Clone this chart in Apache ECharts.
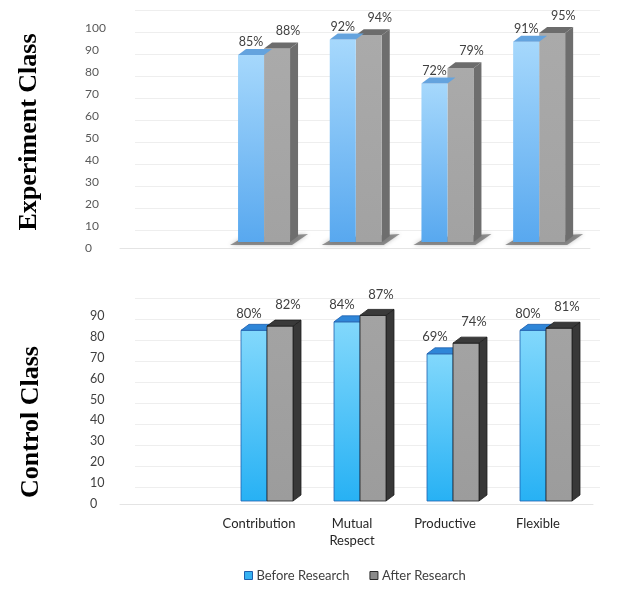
<!DOCTYPE html>
<html><head><meta charset="utf-8">
<script src="https://cdn.jsdelivr.net/npm/echarts@6/dist/echarts.min.js"></script>
<style>html,body{margin:0;padding:0;background:#fff}#c{width:630px;height:598px}</style>
</head><body><div id="c"></div>
<script>
const categories = ['', 'Contribution', 'Mutual\nRespect', 'Productive', 'Flexible'];
const experimentBefore = [null, 85, 92, 72, 91];
const experimentAfter = [null, 88, 94, 79, 95];
const controlBefore = [null, 80, 84, 69, 80];
const controlAfter = [null, 82, 87, 74, 81];
const seriesNames = ['Before Research', 'After Research'];
const panelTitles = ['Experiment Class', 'Control Class'];
const experimentMax = 100;
const controlMax = 90;

const FONT = 'Lato, "Open Sans", sans-serif';

function toData(arr) {
  const out = [];
  arr.forEach((v, i) => { if (v != null) out.push([i, v]); });
  return out;
}

function bar3D(side, st) {
  return function (params, api) {
    const ci = api.value(0), v = api.value(1);
    const top = api.coord([ci, v]);
    const base = api.coord([ci, 0]);
    const bw = 26, dx = 8, dy = 6;
    const xl = side < 0 ? top[0] - bw : top[0];
    const xr = xl + bw;
    const yt = top[1], yb = base[1];
    const children = [];
    if (side > 0) {
      if (st.shadow) {
        const sl = xl - bw;
        children.push({type: 'polygon', z2: -20, shape: {points: [[sl - 8, yb + 3], [sl + 4, yb - 4], [xr + dx + 10, yb - dy - 2], [xr + 2, yb + 3]]},
          style: {fill: 'rgba(70,70,70,0.55)', shadowBlur: 4, shadowColor: 'rgba(70,70,70,0.6)'}});
      }
      children.push({type: 'polygon', shape: {points: [[xr, yt], [xr + dx, yt - dy], [xr + dx, yb - dy], [xr, yb]]},
        style: {fill: st.side, stroke: st.stroke, lineWidth: st.lw}});
    }
    children.push({type: 'rect', shape: {x: xl, y: yt, width: bw, height: yb - yt},
      style: {fill: new echarts.graphic.LinearGradient(0, 0, 0, 1, [{offset: 0, color: st.front[0]}, {offset: 1, color: st.front[1]}]),
        stroke: st.stroke, lineWidth: st.lw}});
    children.push({type: 'polygon', shape: {points: [[xl, yt], [xl + dx, yt - dy], [xr + dx, yt - dy], [xr, yt]]},
      style: {fill: st.top, stroke: st.stroke, lineWidth: st.lw}});
    const lx = side < 0 ? xl + bw / 2 + st.lblDx[0] : xl + bw / 2 + st.lblDx[1];
    const ly = side < 0 ? yt - st.lblDy[0] : yt - st.lblDy[1];
    children.push({type: 'text', style: {text: v + '%', x: lx, y: ly, align: 'center', verticalAlign: 'middle',
      font: st.fontSize + 'px ' + FONT, fill: '#404040'}});
    return {type: 'group', children};
  };
}

const topBlue = {front: ['#a6d8fc', '#58a8ef'], top: '#64a3de', side: '#4a88c8', stroke: null, lw: 0, lblDx: [0, 11], lblDy: [13, 17], fontSize: 12.5};
const topGray = {front: ['#aaaaaa', '#a2a2a2'], top: '#6c6c6c', side: '#6e6e6e', stroke: null, lw: 0, lblDx: [0, 11], lblDy: [13, 17], fontSize: 12.5, shadow: true};
const botBlue = {front: ['#82d8fc', '#27b1f4'], top: '#2f86d8', side: '#1f5fae', stroke: '#1f5fae', lw: 0.8, lblDx: [-5, 8], lblDy: [17, 21], fontSize: 13};
const botGray = {front: ['#a3a3a3', '#9c9c9c'], top: '#3a3a3a', side: '#383838', stroke: '#1e1e1e', lw: 0.8, lblDx: [-5, 8], lblDy: [17, 21], fontSize: 13};

const hiddenX = (gi) => ({type: 'value', gridIndex: gi, min: 0, max: 1, show: false});

const option = {
  animation: false,
  backgroundColor: '#ffffff',
  graphic: [
    {type: 'text', x: 29, y: 132, rotation: Math.PI / 2,
      style: {text: panelTitles[0], font: 'bold 26px "Liberation Serif", "Times New Roman", serif', fill: '#000', align: 'center', verticalAlign: 'middle'}},
    {type: 'text', x: 31, y: 422, rotation: Math.PI / 2,
      style: {text: panelTitles[1], font: 'bold 26px "Liberation Serif", "Times New Roman", serif', fill: '#000', align: 'center', verticalAlign: 'middle'}}
  ],
  legend: {
    left: 239, top: 564, itemWidth: 8, itemHeight: 8, itemGap: 20, icon: 'rect', selectedMode: false,
    textStyle: {fontFamily: FONT, fontSize: 13, color: '#404040', padding: [0, 0, 0, -1]},
    data: [
      {name: seriesNames[0], itemStyle: {color: '#36b2f2', borderColor: '#1f5fae', borderWidth: 1}},
      {name: seriesNames[1], itemStyle: {color: '#8a8a8a', borderColor: '#2a2a2a', borderWidth: 1}}
    ]
  },
  grid: [
    {left: 135, right: 30, top: 10, height: 220},
    {left: 120, right: 40, top: 28, height: 220},
    {left: 126.5, width: 458.5, top: 22, height: 220},
    {left: 135, right: 30, top: 298, height: 189},
    {left: 120, right: 37, top: 316, height: 188},
    {left: 127.5, width: 465, top: 309, height: 192}
  ],
  xAxis: [
    hiddenX(0),
    {type: 'value', gridIndex: 1, min: 0, max: 1, axisLine: {show: true, lineStyle: {color: '#e4e4e4'}}, axisTick: {show: false}, axisLabel: {show: false}, splitLine: {show: false}},
    {type: 'category', gridIndex: 2, data: categories, axisLine: {show: false}, axisTick: {show: false}, axisLabel: {show: false}},
    hiddenX(3),
    {type: 'value', gridIndex: 4, min: 0, max: 1, axisLine: {show: true, lineStyle: {color: '#e4e4e4'}}, axisTick: {show: false}, axisLabel: {show: false}, splitLine: {show: false}},
    {type: 'category', gridIndex: 5, data: categories, axisLine: {show: false}, axisTick: {show: false},
      axisLabel: {show: true, interval: 0, margin: 14, fontFamily: FONT, fontSize: 13, color: '#262626', lineHeight: 17, padding: [0, 16, 0, 0]}}
  ],
  yAxis: [
    {type: 'value', gridIndex: 0, min: 0, max: experimentMax, interval: 10, axisLine: {show: false}, axisTick: {show: false}, axisLabel: {show: false}, splitLine: {lineStyle: {color: '#eeeeee'}}},
    {type: 'value', gridIndex: 1, min: 0, max: experimentMax, interval: 10, axisLine: {show: false}, axisTick: {show: false}, splitLine: {show: false},
      axisLabel: {align: 'left', margin: 35, fontFamily: FONT, fontSize: 12, color: '#595959'}},
    {type: 'value', gridIndex: 2, min: 0, max: experimentMax, show: false},
    {type: 'value', gridIndex: 3, min: 0, max: controlMax, interval: 10, axisLine: {show: false}, axisTick: {show: false}, axisLabel: {show: false}, splitLine: {lineStyle: {color: '#eeeeee'}}},
    {type: 'value', gridIndex: 4, min: 0, max: controlMax, interval: 10, axisLine: {show: false}, axisTick: {show: false}, splitLine: {show: false},
      axisLabel: {align: 'left', margin: 30, fontFamily: FONT, fontSize: 12.5, color: '#404040'}},
    {type: 'value', gridIndex: 5, min: 0, max: controlMax, show: false}
  ],
  series: [
    {type: 'custom', name: seriesNames[0], xAxisIndex: 2, yAxisIndex: 2, z: 3, data: toData(experimentBefore), renderItem: bar3D(-1, topBlue), itemStyle: {color: '#36b2f2'}},
    {type: 'custom', name: seriesNames[1], xAxisIndex: 2, yAxisIndex: 2, z: 2, data: toData(experimentAfter), renderItem: bar3D(1, topGray), itemStyle: {color: '#8a8a8a'}},
    {type: 'custom', name: seriesNames[0], xAxisIndex: 5, yAxisIndex: 5, data: toData(controlBefore), renderItem: bar3D(-1, botBlue), itemStyle: {color: '#36b2f2'}},
    {type: 'custom', name: seriesNames[1], xAxisIndex: 5, yAxisIndex: 5, data: toData(controlAfter), renderItem: bar3D(1, botGray), itemStyle: {color: '#8a8a8a'}}
  ]
};

const chart = echarts.init(document.getElementById('c'), null, {renderer: 'canvas'});
chart.setOption(option);
</script>
</body></html>
